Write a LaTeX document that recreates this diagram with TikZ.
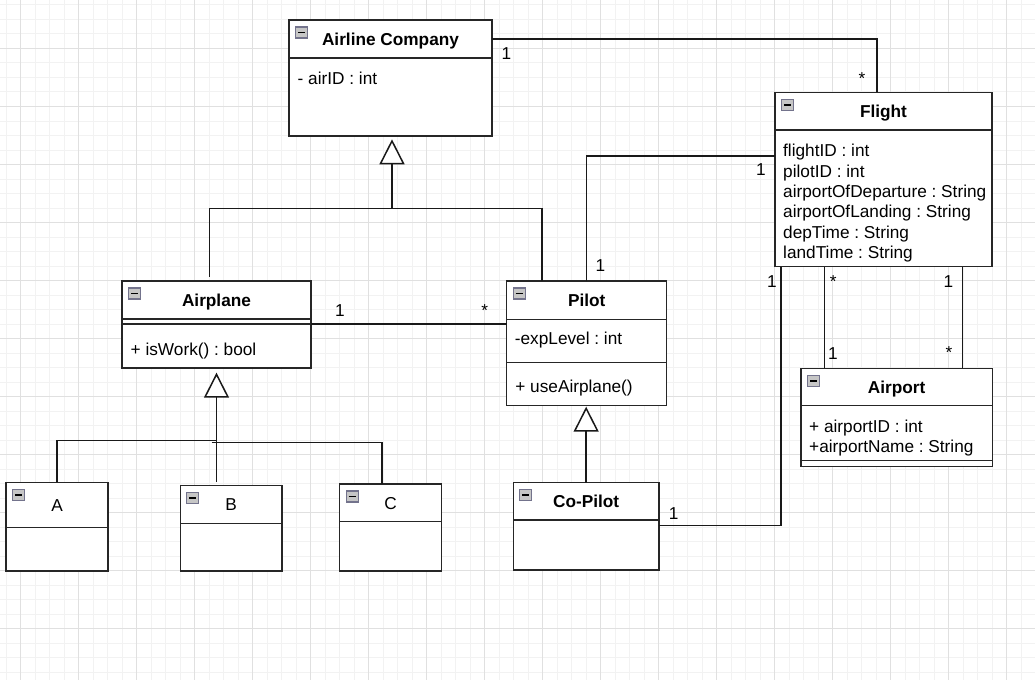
\documentclass[tikz,border=0pt]{standalone}
\usepackage{fontspec}
\setmainfont{Liberation Sans}
\usepackage{tikz}
\usetikzlibrary{arrows.meta}
\usetikzlibrary{positioning}
\usetikzlibrary{calc}
\frenchspacing
\newcommand{\umlfont}{\fontsize{17.3pt}{20.3bp}\selectfont}
\newcommand{\classicon}[1]{%
	\draw[icon] ([shift={(6.5,7)}]#1.north west) rectangle ++(12,11);
	\draw[line width=1.6bp] ([shift={(9,12.5)}]#1.north west) -- ++(7,0);}

\begin{document}
\begin{tikzpicture}[x=1bp, y=-1bp,
			classhead/.style={draw=black!85, line width=1.5bp, fill=white, anchor=north west, inner sep=0pt, outer sep=0pt, text height=12.4pt, text depth=0pt, font=\umlfont\bfseries},
			classbox/.style={draw=black!85, line width=1.5bp, fill=white, inner sep=0pt, outer sep=0pt},
			member/.style={anchor=base west, inner sep=0pt, font=\umlfont},
			members/.style={anchor=north west, inner sep=0pt, align=left, font=\umlfont},
			mult/.style={anchor=base, inner sep=0pt, font=\umlfont},
			assoc/.style={draw=black!90, line width=1.5bp},
			inherit/.style={draw=black!90, line width=1.5bp, -{Triangle[width=25bp, length=25bp, fill=white]}},
			icon/.style={draw=gray!90!blue, fill=gray!45, line width=1.2bp},
			gridminor/.style={draw=black!5, line width=0.6bp},
			gridmajor/.style={draw=black!12, line width=0.8bp}
			]
			\useasboundingbox (0,0) rectangle (1035,680);
			
			%% Background grid
			\fill[white] (0,0) rectangle (1035,680);
			\draw[gridminor, shift={(6,4.8)}] (-6,-4.8) grid[step=14.5bp] (1029,675.2);
			\draw[gridmajor, shift={(20.5,48.3)}] (-20.5,-48.3) grid[step=58bp] (1014.5,631.7);
			
			%% Classes
			\node[classhead, minimum width=203bp, minimum height=38bp] (airlinehead) at (289,20) {Airline Company};
			\node[classbox, minimum width=203bp, minimum height=78bp, below=0pt of airlinehead] (airlinebody) {};
			\node[member] (airid) at ([shift={(8.5,26.5)}]airlinebody.north west) {- airID : int};
			
			\node[classhead, minimum width=217bp, minimum height=37.7bp] (flighthead) at (775,92.3) {Flight};
			\node[classbox, minimum width=217bp, minimum height=136.7bp, below=0pt of flighthead] (flightbody) {};
			\node[members] (flightattr) at ([shift={(8,14.3)}]flightbody.north west) {flightID : int\\pilotID : int\\airportOfDeparture : String\\airportOfLanding : String\\depTime : String\\landTime : String};
			
			\node[classhead, minimum width=189bp, minimum height=38bp] (airplanehead) at (122,281) {Airplane};
			\node[classbox, minimum width=189bp, minimum height=5bp, below=0pt of airplanehead] (airplaneattr) {};
			\node[classbox, minimum width=189bp, minimum height=44bp, below=0pt of airplaneattr] (airplanemeth) {};
			\node[member] (iswork) at ([shift={(8.5,31)}]airplanemeth.north west) {+ isWork() : bool};
			
			\node[classhead, minimum width=160bp, minimum height=38.3bp] (pilothead) at (506.7,281) {Pilot};
			\node[classbox, minimum width=160bp, minimum height=43.4bp, below=0pt of pilothead] (pilotattr) {};
			\node[classbox, minimum width=160bp, minimum height=43bp, below=0pt of pilotattr] (pilotmeth) {};
			\node[member] (explevel) at ([shift={(8,25)}]pilotattr.north west) {-expLevel : int};
			\node[member] (useairplane) at ([shift={(8.5,30)}]pilotmeth.north west) {+ useAirplane()};
			
			\node[classhead, font=\umlfont, minimum width=102bp, minimum height=45.4bp] (ahead) at (6,482.3) {A};
			\node[classbox, minimum width=102bp, minimum height=43.3bp, below=0pt of ahead] (abody) {};
			\node[classhead, font=\umlfont, minimum width=101.7bp, minimum height=37.6bp] (bhead) at (180.3,485.7) {B};
			\node[classbox, minimum width=101.7bp, minimum height=47.7bp, below=0pt of bhead] (bbody) {};
			\node[classhead, font=\umlfont, minimum width=102bp, minimum height=37.7bp] (chead) at (339.7,484) {C};
			\node[classbox, minimum width=102bp, minimum height=49.3bp, below=0pt of chead] (cbody) {};
			
			\node[classhead, minimum width=145.7bp, minimum height=37.3bp] (copilothead) at (513.3,482.7) {Co-Pilot};
			\node[classbox, minimum width=145.7bp, minimum height=50bp, below=0pt of copilothead] (copilotbody) {};
			
			\node[classhead, minimum width=191.3bp, minimum height=37.4bp] (airporthead) at (801,368.3) {Airport};
			\node[classbox, minimum width=191.3bp, minimum height=55bp, below=0pt of airporthead] (airportattr) {};
			\node[classbox, minimum width=191.3bp, minimum height=6bp, below=0pt of airportattr] (airportmeth) {};
			\node[members] (airportlist) at ([shift={(8,13.9)}]airportattr.north west) {+ airportID : int\\+airportName : String};
			
			\classicon{airlinehead}
			\classicon{flighthead}
			\classicon{airplanehead}
			\classicon{pilothead}
			\classicon{ahead}
			\classicon{bhead}
			\classicon{chead}
			\classicon{copilothead}
			\classicon{airporthead}
			
			%% Associations
			\draw[assoc] (airlinehead.east) -| ([xshift=-6.5bp]flighthead.north);
			\draw[assoc] (airplanemeth.north east) -- (airplanemeth.north east -| pilotattr.west);
			\draw[assoc] (pilothead.north) |- ([yshift=-26bp]flightbody.north west);
			\draw[assoc] ([yshift=-5.7bp]copilotbody.north east) -| ([xshift=6bp]flightbody.south west);
			\draw[assoc] ([xshift=23.3bp]airporthead.north west) -- ([xshift=23.3bp]airporthead.north west |- flightbody.south);
			\draw[assoc] ([xshift=-29.6bp]airporthead.north east) -- ([xshift=-29.6bp]airporthead.north east |- flightbody.south);
			
			%% Generalizations
			\coordinate (acjoin) at (392,208.7);
			\coordinate (abjoin) at (216.7,440.7);
			\coordinate (cjoin) at (211.7,442.3);
			\draw[assoc] ([xshift=-7.2bp, yshift=4.3bp]airplanehead.north) |- (acjoin) -| ([xshift=35.3bp]pilothead.north west);
			\draw[inherit, shorten >=3.3bp] (acjoin) -- (acjoin |- airlinebody.south);
			\draw[assoc] (ahead.north) |- (abjoin);
			\draw[assoc] (cjoin) -| ([xshift=-8.7bp]chead.north);
			\draw[inherit, shorten >=4.7bp] ($(airplanemeth.south |- bhead.north)+(0,-3.7)$) -- (airplanemeth.south);
			\draw[inherit, shorten >=1bp] (copilothead.north) -- (copilothead.north |- pilotmeth.south);
			
			%% Multiplicities
			\node[mult] (macomp) at (506.3,60) {1};
			\node[mult] (maflight) at (862,84.3) {*};
			\node[mult] (mpflight) at (760.8,175.5) {1};
			\node[mult] (mppilot) at (600.5,271.7) {1};
			\node[mult] (mplane) at (340,316) {1};
			\node[mult] (mpilot) at (484.7,316) {*};
			\node[mult] (mcopilot) at (673.7,519) {1};
			\node[mult] (mcflight) at (772,287.3) {1};
			\node[mult] (mfdep) at (833.3,287) {*};
			\node[mult] (mfland) at (948.3,287.3) {1};
			\node[mult] (mdep) at (832.8,359) {1};
			\node[mult] (mland) at (949,358.7) {*};
			
		\end{tikzpicture}
\end{document}
